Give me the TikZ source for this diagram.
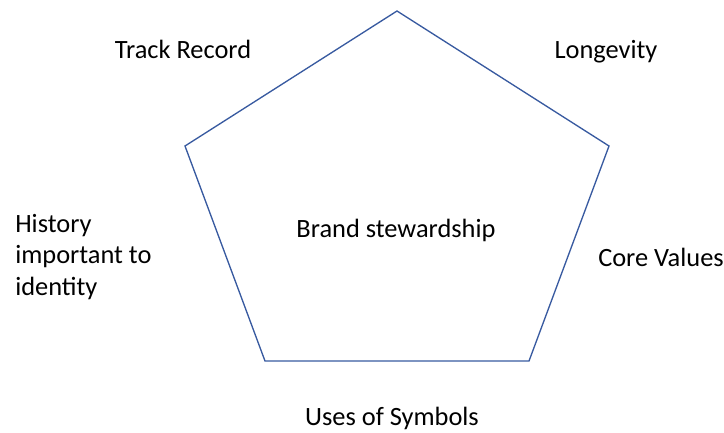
\documentclass[tikz,border=0pt]{standalone}
\usepackage{fontspec}
\setmainfont{Carlito}
\usepackage{tikz}
\usetikzlibrary{positioning}

\definecolor{edgeblue}{RGB}{56,90,160}

\begin{document}
\begin{tikzpicture}[x=0.75pt,y=-0.75pt]
		\tikzset{labelstyle/.style={font=\fontsize{19.8}{23.4}\selectfont,inner sep=0pt,anchor=base}}
		\tikzset{pentedge/.style={draw=edgeblue,line width=1pt,line join=miter}}
		
		\useasboundingbox (0,0) rectangle (724,432);
		
		% corners of the pentagon
		\coordinate (top) at (397,11);
		\coordinate (right) at (609,146);
		\coordinate (lowright) at (529,361);
		\coordinate (lowleft) at (265,361);
		\coordinate (left) at (185,146);
		
		\draw[pentedge] (top) -- (right) -- (lowright) -- (lowleft) -- (left) -- cycle;
		
		\node[labelstyle] (centre) at (396,237) {Brand stewardship};
		
		\node[labelstyle] (track) at (183,58) {Track Record};
		\node[labelstyle] (longevity) at (606,58) {Longevity};
		\node[labelstyle] (values) at (661,266) {Core Values};
		\node[labelstyle] (symbols) at (392,425) {Uses of Symbols};
		% base of a multi-line node is its last line
		\node[labelstyle,anchor=base west,align=left] (history) at (15,295)
			{History\\important to\\identity};
		
\end{tikzpicture}
\end{document}
